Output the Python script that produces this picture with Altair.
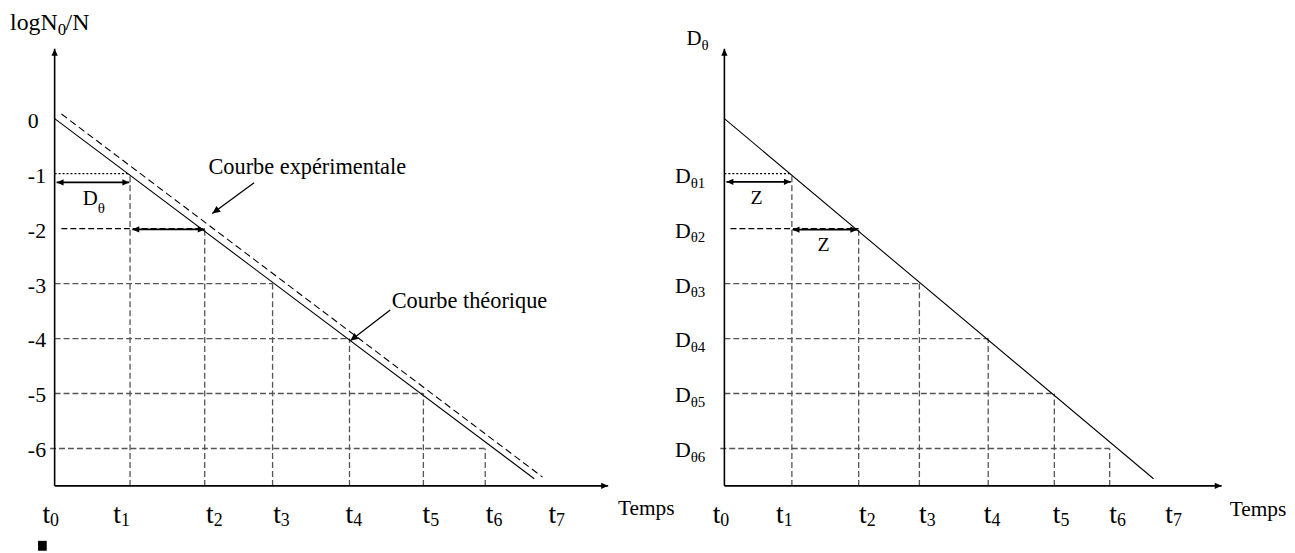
import math
import altair as alt
import pandas as pd

# ------------------------------------------------------------------ data
levels = [0, -1, -2, -3, -4, -5, -6]                 # logN0/N levels (and D-theta levels)
y_tick_labels = ["0", "-1", "-2", "-3", "-4", "-5", "-6"]
d_subs = ["θ1", "θ2", "θ3", "θ4", "θ5", "θ6"]
t_lines = [1.0, 1.99, 2.89, 3.91, 4.89, 5.71]         # t1..t6 (time units, t0 = 0)
h_start = [0.0, 0.09, 0.0, 0.0, 0.0, -0.06]           # start of horizontal guide for levels -1..-6
t_subs = ["0", "1", "2", "3", "4", "5", "6", "7"]
t_label_pos = [-0.06, 0.88, 2.11, 3.0, 3.96, 4.98, 5.82, 6.65]

theory_x = [0.0, 6.36]
theory_y = [0.0, -6.55]
exp_x = [0.09, 6.47]
exp_y = [0.085, -6.52]

axis_top = 1.27
axis_level = -6.68
axis_tip_left = 7.34
axis_tip_right = 7.37

# double arrows: (x_start, x_end, y)
left_arrows = [(0.026, 0.99, -1.16), (1.03, 1.99, -2.014)]
right_arrows = [(0.03, 0.985, -1.148), (1.01, 1.97, -2.02)]

# annotation arrows (from -> to) and their texts
annot_from = [(2.645, -1.166), (4.45, -3.48)]
annot_to = [(2.09, -1.726), (3.92, -4.04)]
annot_text = ["Courbe expérimentale", "Courbe théorique"]
annot_text_pos = [(2.04, -1.0), (4.47, -3.44)]

z_text_pos = [(0.478, -1.545), (1.47, -2.4)]
temps_left = (7.47, -7.21)
temps_right = (7.49, -7.23)

blot_x = [-0.22, -0.105]
blot_y = [-7.68, -7.86]

# ------------------------------------------------------------------ layout / style
FONT = "Liberation Serif"
PX_Y = 55.4
Y0_PAGE = 117.4
TOP_PAGE, BOTTOM_PAGE = 8, 553
H = BOTTOM_PAGE - TOP_PAGE
ARROW = "M0,0L-2,-0.9L-2,0.9Z"
GRID = "#555555"


def yscale():
    return alt.Scale(domain=[-(BOTTOM_PAGE - Y0_PAGE) / PX_Y, (Y0_PAGE - TOP_PAGE) / PX_Y],
                     nice=False, zero=False)


def xscale(x0_page, px, left_page, right_page):
    return alt.Scale(domain=[(left_page - x0_page) / px, (right_page - x0_page) / px],
                     nice=False, zero=False)


def seg_layer(df, xs, ys, color="black", width=1.0, dash=None):
    kw = dict(color=color, strokeWidth=width)
    if dash:
        kw["strokeDash"] = dash
    return alt.Chart(df).mark_rule(**kw).encode(
        x=alt.X("x:Q", scale=xs, axis=None),
        x2="x2:Q",
        y=alt.Y("y:Q", scale=ys, axis=None),
        y2="y2:Q",
    )


def head_layer(df, xs, ys, size=49):
    return alt.Chart(df).mark_point(shape=ARROW, filled=True, size=size, color="black",
                                    opacity=1, strokeWidth=0).encode(
        x=alt.X("x:Q", scale=xs, axis=None),
        y=alt.Y("y:Q", scale=ys, axis=None),
        angle=alt.Angle("angle:Q", scale=None),
    )


def text_layer(df, xs, ys, size, align="left", dy=0):
    return alt.Chart(df).mark_text(font=FONT, fontSize=size, align=align,
                                   baseline="alphabetic", dy=dy, color="black").encode(
        x=alt.X("x:Q", scale=xs, axis=None),
        y=alt.Y("y:Q", scale=ys, axis=None),
        text="text:N",
    )


def seg_df(rows):
    return pd.DataFrame(rows, columns=["x", "x2", "y", "y2"])


def make_panel(x0_page, px, left_page, right_page, tip, arrows, left):
    xs = xscale(x0_page, px, left_page, right_page)
    ys = yscale()
    layers = []

    # guides
    gray_h, black_h, dot_h, vert = [], [], [], []
    for i in range(1, 7):
        row = (h_start[i - 1], t_lines[i - 1], levels[i], levels[i])
        (dot_h if i == 1 else black_h if i == 2 else gray_h).append(row)
        vert.append((t_lines[i - 1], t_lines[i - 1], axis_level, levels[i]))
    layers.append(seg_layer(seg_df(vert), xs, ys, GRID, 1.3, [6, 3]))
    layers.append(seg_layer(seg_df(gray_h), xs, ys, GRID, 1.3, [6, 3]))
    layers.append(seg_layer(seg_df(black_h), xs, ys, "black", 1.2, [6, 3]))
    layers.append(seg_layer(seg_df(dot_h), xs, ys, "black", 1.1, [2, 2]))

    # curves
    layers.append(seg_layer(seg_df([(theory_x[0], theory_x[1], theory_y[0], theory_y[1])]),
                            xs, ys, "black", 1.1))
    if left:
        layers.append(seg_layer(seg_df([(exp_x[0], exp_x[1], exp_y[0], exp_y[1])]),
                                xs, ys, "black", 1.1, [7, 4]))

    # axes
    layers.append(seg_layer(seg_df([(0, 0, axis_level, axis_top),
                                    (0, tip, axis_level, axis_level)]), xs, ys, "black", 1.6))
    heads = [(0, axis_top, 270), (tip, axis_level, 0)]

    # double arrows
    arr_rows = [(a, b, y, y) for a, b, y in arrows]
    layers.append(seg_layer(seg_df(arr_rows), xs, ys, "black", 1.8))
    for a, b, y in arrows:
        heads.append((a, y, 180))
        heads.append((b, y, 0))
    layers.append(head_layer(pd.DataFrame(heads, columns=["x", "y", "angle"]), xs, ys))

    # annotation arrows
    if left:
        rows, ah = [], []
        for (x1, y1), (x2, y2) in zip(annot_from, annot_to):
            rows.append((x1, x2, y1, y2))
            ang = math.degrees(math.atan2(-(y2 - y1) * PX_Y, (x2 - x1) * px)) % 360
            ah.append((x2, y2, ang))
        layers.append(seg_layer(seg_df(rows), xs, ys, "black", 1.3))
        layers.append(head_layer(pd.DataFrame(ah, columns=["x", "y", "angle"]), xs, ys, 64))

    # t labels
    tmain = pd.DataFrame({"x": t_label_pos, "y": [-7.36] * 8, "text": ["t"] * 8})
    tsub = pd.DataFrame({"x": t_label_pos, "y": [-7.41] * 8, "text": t_subs})
    layers.append(text_layer(tmain, xs, ys, 28, "right"))
    layers.append(text_layer(tsub, xs, ys, 18, "left"))

    tp = temps_left if left else temps_right
    layers.append(text_layer(pd.DataFrame({"x": [tp[0]], "y": [tp[1]], "text": ["Temps"]}),
                             xs, ys, 21.5, "left"))

    if left:
        ylab = pd.DataFrame({"x": [-0.355] * 7, "y": levels, "text": y_tick_labels})
        layers.append(text_layer(ylab, xs, ys, 22, "left", dy=9))
        layers.append(text_layer(pd.DataFrame({"x": [0.04], "y": [1.614], "text": ["logN"]}),
                                 xs, ys, 24, "right"))
        layers.append(text_layer(pd.DataFrame({"x": [0.04], "y": [1.52], "text": ["0"]}),
                                 xs, ys, 17, "left"))
        layers.append(text_layer(pd.DataFrame({"x": [0.145], "y": [1.614], "text": ["/N"]}),
                                 xs, ys, 24, "left"))
        layers.append(text_layer(pd.DataFrame({"x": [0.572], "y": [-1.563], "text": ["D"]}),
                                 xs, ys, 21, "right"))
        layers.append(text_layer(pd.DataFrame({"x": [0.572], "y": [-1.708], "text": ["θ"]}),
                                 xs, ys, 15, "left"))
        adf = pd.DataFrame({"x": [p[0] for p in annot_text_pos],
                            "y": [p[1] for p in annot_text_pos], "text": annot_text})
        layers.append(text_layer(adf, xs, ys, 22.5, "left"))
        blot = pd.DataFrame({"x": [blot_x[0]], "x2": [blot_x[1]],
                             "y": [blot_y[0]], "y2": [blot_y[1]]})
        layers.append(alt.Chart(blot).mark_rect(color="black").encode(
            x=alt.X("x:Q", scale=xs, axis=None), x2="x2:Q",
            y=alt.Y("y:Q", scale=ys, axis=None), y2="y2:Q"))
    else:
        dm = pd.DataFrame({"x": [-0.5] * 6, "y": levels[1:], "text": ["D"] * 6})
        ds = pd.DataFrame({"x": [-0.5] * 6, "y": levels[1:], "text": d_subs})
        layers.append(text_layer(dm, xs, ys, 22, "right", dy=9))
        layers.append(text_layer(ds, xs, ys, 15, "left", dy=14))
        layers.append(text_layer(pd.DataFrame({"x": [-0.338], "y": [1.343], "text": ["D"]}),
                                 xs, ys, 21, "right"))
        layers.append(text_layer(pd.DataFrame({"x": [-0.338], "y": [1.253], "text": ["θ"]}),
                                 xs, ys, 15, "left"))
        zdf = pd.DataFrame({"x": [p[0] for p in z_text_pos],
                            "y": [p[1] for p in z_text_pos], "text": ["Z", "Z"]})
        layers.append(text_layer(zdf, xs, ys, 20, "center"))

    return alt.layer(*layers).properties(width=right_page - left_page, height=H)


left_panel = make_panel(55, 76, 8, 680, axis_tip_left, left_arrows, True)
right_panel = make_panel(721, 68, 680, 1287, axis_tip_right, right_arrows, False)

chart = alt.hconcat(left_panel, right_panel, spacing=0).properties(
    padding=0, background="white"
).configure_view(stroke=None)

chart.save("out.html", embed_options={"renderer": "svg", "actions": False})
